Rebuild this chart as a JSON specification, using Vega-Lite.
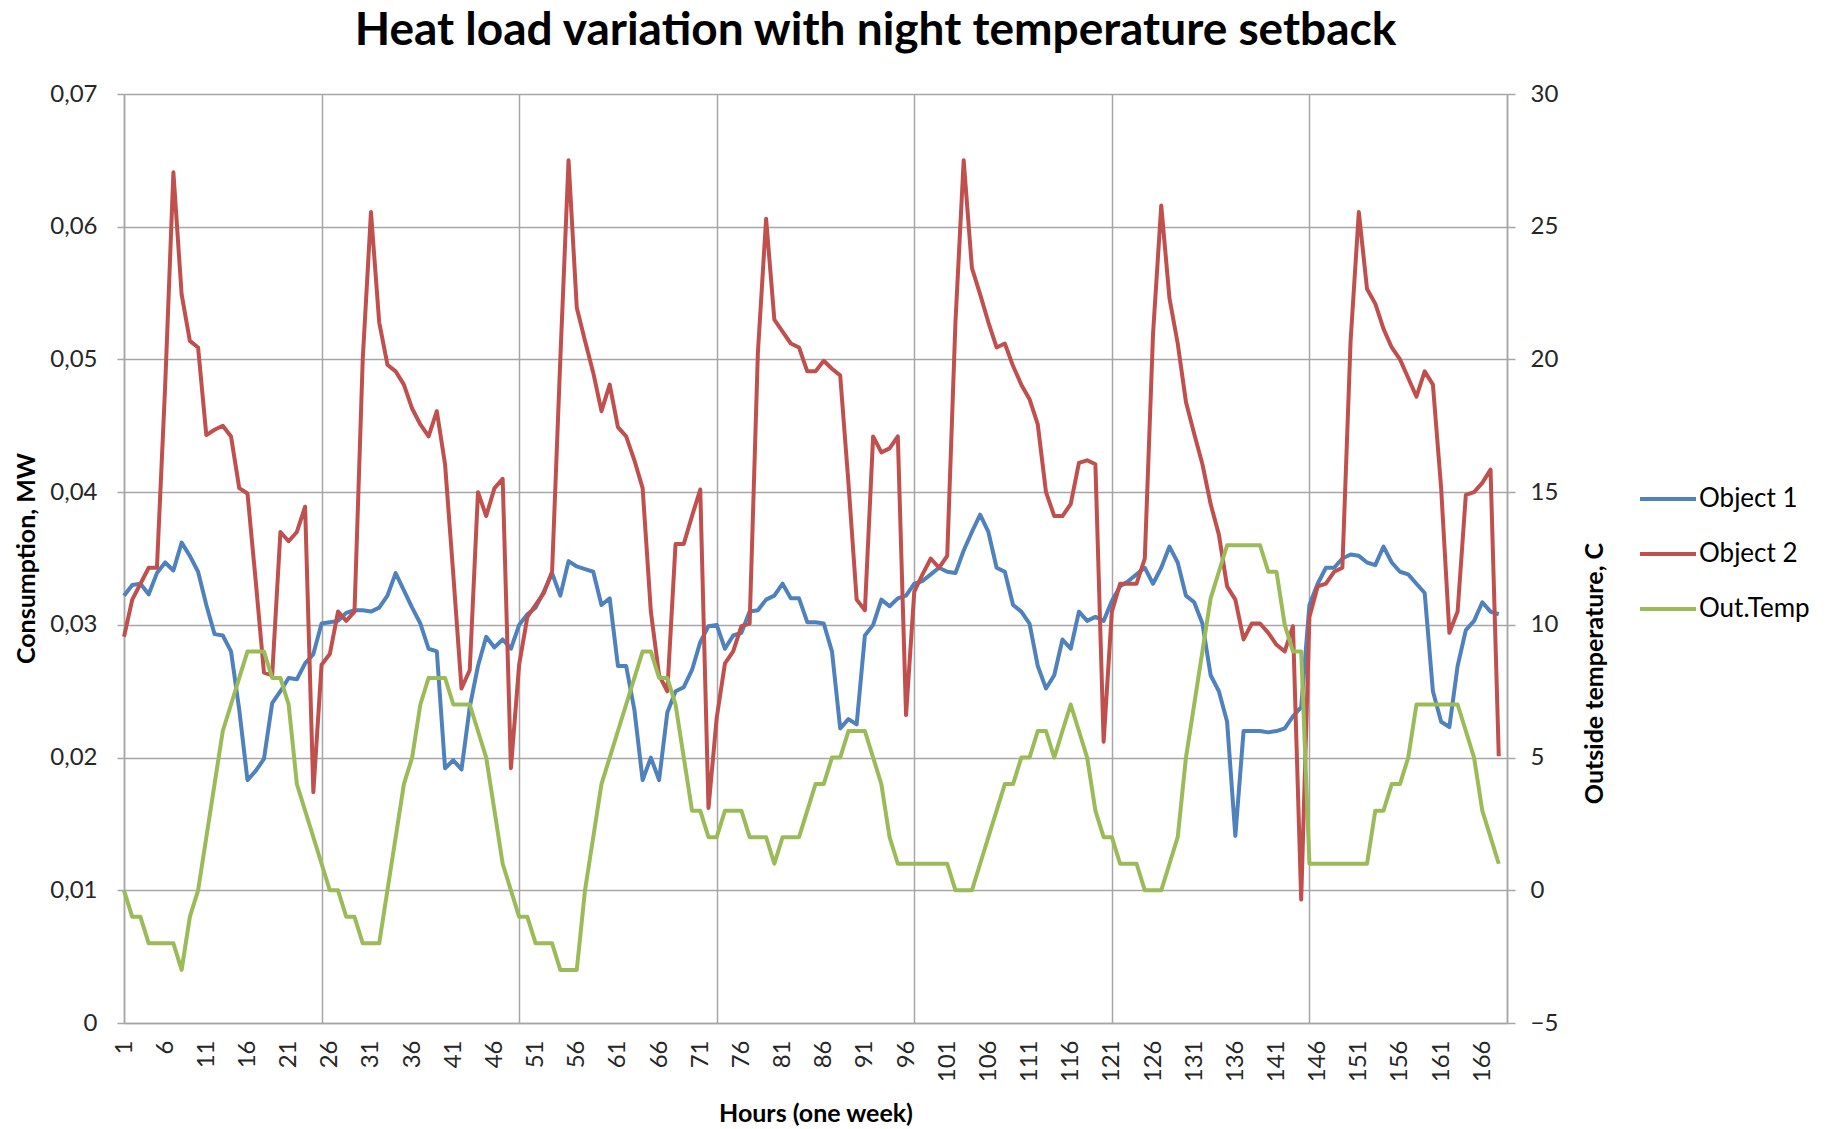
{
"$schema": "https://vega.github.io/schema/vega-lite/v6.json",
"width": 1383, "height": 929,
"autosize": {"type": "none"},
"padding": {"left": 124, "top": 94, "right": 324, "bottom": 106},
"background": "white",
"title": {"text": "Heat load variation with night temperature setback", "font": "Lato", "fontSize": 46, "fontWeight": "bold", "color": "#000000", "anchor": "middle", "dx": 60, "offset": 27},
"config": {"view": {"stroke": null}, "axis": {"labelFont": "Lato", "titleFont": "Lato", "labelColor": "#262626", "titleColor": "#000000"}},
"data": {"values": [
{"h":1,"o1":0.0322,"o2":0.0291,"t":0},{"h":2,"o1":0.0330,"o2":0.0319,"t":-1},{"h":3,"o1":0.0331,"o2":0.0331,"t":-1},{"h":4,"o1":0.0323,"o2":0.0343,"t":-2},{"h":5,"o1":0.0339,"o2":0.0343,"t":-2},{"h":6,"o1":0.0347,"o2":0.048,"t":-2},{"h":7,"o1":0.0341,"o2":0.0641,"t":-2},{"h":8,"o1":0.0362,"o2":0.0549,"t":-3},{"h":9,"o1":0.0352,"o2":0.0514,"t":-1},{"h":10,"o1":0.0340,"o2":0.0509,"t":0},
{"h":11,"o1":0.0315,"o2":0.0443,"t":2},{"h":12,"o1":0.0293,"o2":0.0447,"t":4},{"h":13,"o1":0.0292,"o2":0.0450,"t":6},{"h":14,"o1":0.0280,"o2":0.0442,"t":7},{"h":15,"o1":0.0236,"o2":0.0403,"t":8},{"h":16,"o1":0.0183,"o2":0.0399,"t":9},{"h":17,"o1":0.0190,"o2":0.0333,"t":9},{"h":18,"o1":0.0199,"o2":0.0264,"t":9},{"h":19,"o1":0.0241,"o2":0.0262,"t":8},{"h":20,"o1":0.0250,"o2":0.0370,"t":8},
{"h":21,"o1":0.0260,"o2":0.0363,"t":7},{"h":22,"o1":0.0259,"o2":0.0370,"t":4},{"h":23,"o1":0.0271,"o2":0.0389,"t":3},{"h":24,"o1":0.0278,"o2":0.0174,"t":2},{"h":25,"o1":0.0301,"o2":0.0270,"t":1},{"h":26,"o1":0.0302,"o2":0.0278,"t":0},{"h":27,"o1":0.0303,"o2":0.0310,"t":0},{"h":28,"o1":0.0309,"o2":0.0303,"t":-1},{"h":29,"o1":0.0311,"o2":0.0310,"t":-1},{"h":30,"o1":0.0311,"o2":0.0500,"t":-2},
{"h":31,"o1":0.0310,"o2":0.0611,"t":-2},{"h":32,"o1":0.0313,"o2":0.0528,"t":-2},{"h":33,"o1":0.0322,"o2":0.0496,"t":0},{"h":34,"o1":0.0339,"o2":0.0491,"t":2},{"h":35,"o1":0.0326,"o2":0.0481,"t":4},{"h":36,"o1":0.0313,"o2":0.0463,"t":5},{"h":37,"o1":0.0301,"o2":0.0451,"t":7},{"h":38,"o1":0.0282,"o2":0.0442,"t":8},{"h":39,"o1":0.0280,"o2":0.0461,"t":8},{"h":40,"o1":0.0192,"o2":0.0421,"t":8},
{"h":41,"o1":0.0198,"o2":0.0338,"t":7},{"h":42,"o1":0.0191,"o2":0.0252,"t":7},{"h":43,"o1":0.0238,"o2":0.0266,"t":7},{"h":44,"o1":0.0269,"o2":0.0400,"t":6},{"h":45,"o1":0.0291,"o2":0.0382,"t":5},{"h":46,"o1":0.0283,"o2":0.0403,"t":3},{"h":47,"o1":0.0289,"o2":0.0410,"t":1},{"h":48,"o1":0.0282,"o2":0.0192,"t":0},{"h":49,"o1":0.0300,"o2":0.0270,"t":-1},{"h":50,"o1":0.0308,"o2":0.0306,"t":-1},
{"h":51,"o1":0.0313,"o2":0.0315,"t":-2},{"h":52,"o1":0.0325,"o2":0.0324,"t":-2},{"h":53,"o1":0.0339,"o2":0.0340,"t":-2},{"h":54,"o1":0.0322,"o2":0.0500,"t":-3},{"h":55,"o1":0.0348,"o2":0.0650,"t":-3},{"h":56,"o1":0.0344,"o2":0.0539,"t":-3},{"h":57,"o1":0.0342,"o2":0.0514,"t":0},{"h":58,"o1":0.0340,"o2":0.0490,"t":2},{"h":59,"o1":0.0315,"o2":0.0461,"t":4},{"h":60,"o1":0.0320,"o2":0.0481,"t":5},
{"h":61,"o1":0.0269,"o2":0.0449,"t":6},{"h":62,"o1":0.0269,"o2":0.0442,"t":7},{"h":63,"o1":0.0236,"o2":0.0424,"t":8},{"h":64,"o1":0.0183,"o2":0.0403,"t":9},{"h":65,"o1":0.0200,"o2":0.0310,"t":9},{"h":66,"o1":0.0183,"o2":0.0262,"t":8},{"h":67,"o1":0.0234,"o2":0.0250,"t":8},{"h":68,"o1":0.0250,"o2":0.0361,"t":7},{"h":69,"o1":0.0253,"o2":0.0361,"t":5},{"h":70,"o1":0.0266,"o2":0.0382,"t":3},
{"h":71,"o1":0.0287,"o2":0.0402,"t":3},{"h":72,"o1":0.0299,"o2":0.0162,"t":2},{"h":73,"o1":0.0300,"o2":0.0230,"t":2},{"h":74,"o1":0.0282,"o2":0.0271,"t":3},{"h":75,"o1":0.0292,"o2":0.0280,"t":3},{"h":76,"o1":0.0294,"o2":0.0299,"t":3},{"h":77,"o1":0.0310,"o2":0.0301,"t":2},{"h":78,"o1":0.0311,"o2":0.0505,"t":2},{"h":79,"o1":0.0319,"o2":0.0606,"t":2},{"h":80,"o1":0.0322,"o2":0.0530,"t":1},
{"h":81,"o1":0.0331,"o2":0.0521,"t":2},{"h":82,"o1":0.0320,"o2":0.0512,"t":2},{"h":83,"o1":0.0320,"o2":0.0509,"t":2},{"h":84,"o1":0.0302,"o2":0.0491,"t":3},{"h":85,"o1":0.0302,"o2":0.0491,"t":4},{"h":86,"o1":0.0301,"o2":0.0499,"t":4},{"h":87,"o1":0.0280,"o2":0.0493,"t":5},{"h":88,"o1":0.0222,"o2":0.0488,"t":5},{"h":89,"o1":0.0229,"o2":0.0407,"t":6},{"h":90,"o1":0.0225,"o2":0.0319,"t":6},
{"h":91,"o1":0.0292,"o2":0.0311,"t":6},{"h":92,"o1":0.0300,"o2":0.0442,"t":5},{"h":93,"o1":0.0319,"o2":0.0430,"t":4},{"h":94,"o1":0.0314,"o2":0.0433,"t":2},{"h":95,"o1":0.0320,"o2":0.0442,"t":1},{"h":96,"o1":0.0322,"o2":0.0232,"t":1},{"h":97,"o1":0.0331,"o2":0.0325,"t":1},{"h":98,"o1":0.0333,"o2":0.0338,"t":1},{"h":99,"o1":0.0338,"o2":0.0350,"t":1},{"h":100,"o1":0.0343,"o2":0.0343,"t":1},
{"h":101,"o1":0.0340,"o2":0.0352,"t":1},{"h":102,"o1":0.0339,"o2":0.0528,"t":0},{"h":103,"o1":0.0356,"o2":0.0650,"t":0},{"h":104,"o1":0.0370,"o2":0.0569,"t":0},{"h":105,"o1":0.0383,"o2":0.0549,"t":1},{"h":106,"o1":0.0370,"o2":0.0528,"t":2},{"h":107,"o1":0.0343,"o2":0.0509,"t":3},{"h":108,"o1":0.0340,"o2":0.0512,"t":4},{"h":109,"o1":0.0315,"o2":0.0495,"t":4},{"h":110,"o1":0.0310,"o2":0.0481,"t":5},
{"h":111,"o1":0.0301,"o2":0.0470,"t":5},{"h":112,"o1":0.0269,"o2":0.0451,"t":6},{"h":113,"o1":0.0252,"o2":0.0400,"t":6},{"h":114,"o1":0.0262,"o2":0.0382,"t":5},{"h":115,"o1":0.0289,"o2":0.0382,"t":6},{"h":116,"o1":0.0282,"o2":0.0391,"t":7},{"h":117,"o1":0.0310,"o2":0.0422,"t":6},{"h":118,"o1":0.0303,"o2":0.0424,"t":5},{"h":119,"o1":0.0306,"o2":0.0421,"t":3},{"h":120,"o1":0.0303,"o2":0.0212,"t":2},
{"h":121,"o1":0.0318,"o2":0.0310,"t":2},{"h":122,"o1":0.0329,"o2":0.0331,"t":1},{"h":123,"o1":0.0333,"o2":0.0331,"t":1},{"h":124,"o1":0.0338,"o2":0.0331,"t":1},{"h":125,"o1":0.0343,"o2":0.0350,"t":0},{"h":126,"o1":0.0331,"o2":0.0519,"t":0},{"h":127,"o1":0.0343,"o2":0.0616,"t":0},{"h":128,"o1":0.0359,"o2":0.0546,"t":1},{"h":129,"o1":0.0347,"o2":0.0512,"t":2},{"h":130,"o1":0.0322,"o2":0.0468,"t":5},
{"h":131,"o1":0.0317,"o2":0.0444,"t":7},{"h":132,"o1":0.0301,"o2":0.0421,"t":9},{"h":133,"o1":0.0262,"o2":0.0391,"t":11},{"h":134,"o1":0.0250,"o2":0.0368,"t":12},{"h":135,"o1":0.0227,"o2":0.0329,"t":13},{"h":136,"o1":0.0141,"o2":0.0319,"t":13},{"h":137,"o1":0.0220,"o2":0.0289,"t":13},{"h":138,"o1":0.0220,"o2":0.0301,"t":13},{"h":139,"o1":0.0220,"o2":0.0301,"t":13},{"h":140,"o1":0.0219,"o2":0.0294,"t":12},
{"h":141,"o1":0.0220,"o2":0.0285,"t":12},{"h":142,"o1":0.0222,"o2":0.0280,"t":10},{"h":143,"o1":0.0231,"o2":0.0299,"t":9},{"h":144,"o1":0.0238,"o2":0.0093,"t":9},{"h":145,"o1":0.0315,"o2":0.0306,"t":1},{"h":146,"o1":0.0331,"o2":0.0329,"t":1},{"h":147,"o1":0.0343,"o2":0.0331,"t":1},{"h":148,"o1":0.0343,"o2":0.0340,"t":1},{"h":149,"o1":0.0350,"o2":0.0343,"t":1},{"h":150,"o1":0.0353,"o2":0.0514,"t":1},
{"h":151,"o1":0.0352,"o2":0.0611,"t":1},{"h":152,"o1":0.0347,"o2":0.0553,"t":1},{"h":153,"o1":0.0345,"o2":0.0542,"t":3},{"h":154,"o1":0.0359,"o2":0.0523,"t":3},{"h":155,"o1":0.0347,"o2":0.0509,"t":4},{"h":156,"o1":0.0340,"o2":0.0500,"t":4},{"h":157,"o1":0.0338,"o2":0.0486,"t":5},{"h":158,"o1":0.0331,"o2":0.0472,"t":7},{"h":159,"o1":0.0324,"o2":0.0491,"t":7},{"h":160,"o1":0.0250,"o2":0.0481,"t":7},
{"h":161,"o1":0.0227,"o2":0.0403,"t":7},{"h":162,"o1":0.0223,"o2":0.0294,"t":7},{"h":163,"o1":0.0269,"o2":0.0310,"t":7},{"h":164,"o1":0.0296,"o2":0.0398,"t":6},{"h":165,"o1":0.0303,"o2":0.0400,"t":5},{"h":166,"o1":0.0317,"o2":0.0407,"t":3},{"h":167,"o1":0.0310,"o2":0.0417,"t":2},{"h":168,"o1":0.0308,"o2":0.0201,"t":1}
]},
"layer": [
{
"transform": [{"fold": ["o1", "o2"], "as": ["series", "value"]}],
"mark": {"type": "line", "strokeWidth": 4, "strokeJoin": "round"},
"encoding": {
"x": {"field": "h", "type": "quantitative", "scale": {"domain": [1, 169], "nice": false, "zero": false},
"axis": {"orient": "top", "values": [1, 25, 49, 73, 97, 121, 145, 169], "grid": true, "gridColor": "#a6a6a6", "gridWidth": 1.5, "labels": false, "ticks": false, "domain": false, "title": null}},
"y": {"field": "value", "type": "quantitative", "scale": {"domain": [0, 0.07], "nice": false, "zero": false},
"axis": {"orient": "left", "values": [0, 0.01, 0.02, 0.03, 0.04, 0.05, 0.06, 0.07], "grid": true, "gridColor": "#a6a6a6", "gridWidth": 1.5, "domain": true, "domainColor": "#a6a6a6", "domainWidth": 1.5, "ticks": true, "tickColor": "#a6a6a6", "tickSize": 7, "tickWidth": 1.5, "labelFontSize": 24, "labelPadding": 20,
"labelExpr": "datum.value == 0 ? '0' : replace(format(datum.value, '.2f'), '.', ',')",
"title": "Consumption, MW", "titleFontSize": 25, "titleFontWeight": "bold", "titleAngle": -90, "titleX": -98, "titleY": 464, "titleAlign": "center", "titleBaseline": "middle"}},
"color": {"field": "series", "type": "nominal", "scale": {"domain": ["o1", "o2", "t"], "range": ["#4F81BD", "#C0504D", "#9BBB59"]},
"legend": {"orient": "none", "legendX": 1514, "legendY": 375, "title": null, "symbolType": "stroke", "symbolSize": 3136, "symbolStrokeWidth": 4, "labelFont": "Lato", "labelFontSize": 26, "labelColor": "#000000", "labelOffset": 1, "rowPadding": 12,
"labelExpr": "datum.value == 'o1' ? 'Object 1' : datum.value == 'o2' ? 'Object 2' : 'Out.Temp'"}}
}
},
{
"transform": [{"fold": ["t"], "as": ["series", "value"]}],
"mark": {"type": "line", "strokeWidth": 4, "strokeJoin": "round"},
"encoding": {
"x": {"field": "h", "type": "quantitative", "scale": {"domain": [1, 169], "nice": false, "zero": false},
"axis": {"orient": "bottom", "values": [1, 6, 11, 16, 21, 26, 31, 36, 41, 46, 51, 56, 61, 66, 71, 76, 81, 86, 91, 96, 101, 106, 111, 116, 121, 126, 131, 136, 141, 146, 151, 156, 161, 166], "grid": false, "ticks": false, "domain": true, "domainColor": "#a6a6a6", "domainWidth": 1.5, "labelAngle": -90, "labelFontSize": 24, "labelPadding": 17, "labelFlush": false, "labelOverlap": false,
"title": "Hours (one week)", "titleFontSize": 25, "titleFontWeight": "bold", "titleY": 90, "titleBaseline": "middle"}},
"y": {"field": "value", "type": "quantitative", "scale": {"domain": [-5, 30], "nice": false, "zero": false},
"axis": {"orient": "right", "values": [-5, 0, 5, 10, 15, 20, 25, 30], "grid": false, "domain": true, "domainColor": "#a6a6a6", "domainWidth": 1.5, "ticks": true, "tickColor": "#a6a6a6", "tickSize": 8, "tickWidth": 1.5, "labelFontSize": 24, "labelPadding": 15,
"title": "Outside temperature, C", "titleFontSize": 25, "titleFontWeight": "bold", "titleAngle": -90, "titleX": 87, "titleY": 579, "titleAlign": "center", "titleBaseline": "middle"}},
"color": {"field": "series", "type": "nominal", "scale": {"domain": ["o1", "o2", "t"], "range": ["#4F81BD", "#C0504D", "#9BBB59"]}}
}
}
],
"resolve": {"scale": {"y": "independent", "x": "independent"}, "axis": {"x": "independent", "y": "independent"}}
}
